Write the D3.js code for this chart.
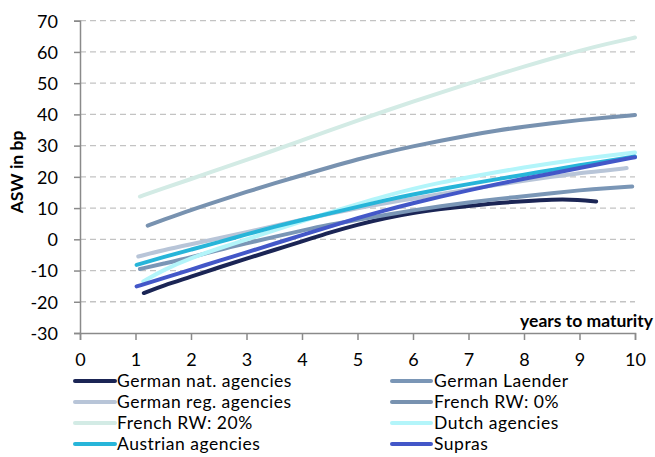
<!DOCTYPE html>
<html><head><meta charset="utf-8">
<script src="https://cdn.jsdelivr.net/npm/d3@7/dist/d3.min.js"></script>
<style>body{margin:0;background:#fff}svg{display:block}text{font-family:Lato,"Open Sans",sans-serif;fill:#000}</style>
</head><body><svg id="c" width="655" height="457"></svg>
<script>
const seriesNames = ["German nat. agencies","German Laender","German reg. agencies","French RW: 0%","French RW: 20%","Dutch agencies","Austrian agencies","Supras"];
const seriesColors = ["#1b2555","#7a96b6","#b8c5d8","#7892b0","#d3ebe5","#b3f5fa","#27b5d9","#4357c8"];
const germanNat = [[1.15,-17.2],[1.5,-14.8],[2,-12],[2.5,-9],[3,-6.2],[3.5,-3.4],[4,-0.7],[4.5,2.2],[5,4.7],[5.5,6.8],[6,8.5],[6.5,9.7],[7,10.7],[7.5,11.6],[8,12.2],[8.5,12.8],[9,12.7],[9.3,12.1]];
const germanLaender = [[1.08,-9.5],[1.5,-7.8],[2,-5.8],[2.5,-3.4],[3,-1.3],[3.5,0.8],[4,2.8],[4.5,4.7],[5,6.3],[5.5,7.8],[6,9.3],[6.5,10.6],[7,11.8],[7.5,12.9],[8,13.8],[8.5,14.8],[9,15.7],[9.5,16.4],[9.95,16.9]];
const germanReg = [[1.05,-5.5],[1.5,-3.5],[2,-1.6],[2.5,0.3],[3,2.3],[3.5,4.3],[4,6.3],[4.5,8.2],[5,10],[5.5,11.6],[6,13],[6.5,14.5],[7,16],[7.5,17.4],[8,18.8],[8.5,20],[9,21.2],[9.5,22.1],[9.85,22.8]];
const frenchRW0 = [[1.22,4.4],[1.5,6.2],[2,9.4],[2.5,12.3],[3,15.2],[3.5,17.9],[4,20.5],[4.5,23.1],[5,25.6],[5.5,27.8],[6,29.8],[6.5,31.6],[7,33.3],[7.5,34.8],[8,36.1],[8.5,37.2],[9,38.2],[9.5,39],[10,39.8]];
const frenchRW20 = [[1.08,13.7],[1.5,16.3],[2,19.3],[2.5,22.4],[3,25.4],[3.5,28.5],[4,31.7],[4.5,34.9],[5,38],[5.5,41.1],[6,44.1],[6.5,47],[7,49.9],[7.5,52.6],[8,55.3],[8.5,57.9],[9,60.4],[9.5,62.6],[10,64.6]];
const dutch = [[1.14,-13.5],[1.5,-9.8],[2,-6],[2.5,-2.9],[3,-0.1],[3.5,2.9],[4,5.8],[4.5,8.6],[5,11.3],[5.5,13.9],[6,16.2],[6.5,18.2],[7,19.9],[7.5,21.5],[8,23],[8.5,24.4],[9,25.7],[9.5,26.8],[10,27.8]];
const austrian = [[1.02,-8.2],[1.5,-5.7],[2,-3.3],[2.5,-0.9],[3,1.6],[3.5,4],[4,6.2],[4.5,8.3],[5,10.4],[5.5,12.5],[6,14.4],[6.5,16],[7,17.7],[7.5,19.2],[8,20.7],[8.5,22.2],[9,23.7],[9.5,25.1],[10,26.5]];
const supras = [[1.02,-15.1],[1.5,-12.4],[2,-9.7],[2.5,-6.9],[3,-4.2],[3.5,-1.4],[4,1.3],[4.5,4.1],[5,6.8],[5.5,9.3],[6,11.6],[6.5,13.7],[7,15.7],[7.5,17.6],[8,19.4],[8.5,21.1],[9,22.8],[9.5,24.6],[10,26.3]];
const seriesData = [germanNat,germanLaender,germanReg,frenchRW0,frenchRW20,dutch,austrian,supras];
const xTicks = [0,1,2,3,4,5,6,7,8,9,10];
const yTicks = [-30,-20,-10,0,10,20,30,40,50,60,70];

const svg = d3.select("#c");
const x = d3.scaleLinear().domain([0,10]).range([80,635]);
const y = d3.scaleLinear().domain([-30,70]).range([333,20.7]);

svg.append("g").selectAll("line").data(yTicks.filter(v=>v>-30)).join("line")
  .attr("x1",x(0)).attr("x2",x(10)).attr("y1",d=>y(d)).attr("y2",d=>y(d))
  .attr("stroke","#c3c3c3").attr("stroke-width",1.3).attr("stroke-dasharray","6,4");

const fmt = d => String(d);
const yAxis = svg.append("g").attr("transform",`translate(${x(0)},0)`)
  .call(d3.axisLeft(y).tickValues(yTicks).tickSize(6).tickPadding(16).tickFormat(fmt));
const xAxis = svg.append("g").attr("transform",`translate(0,${y(-30)})`)
  .call(d3.axisBottom(x).tickValues(xTicks).tickSize(7).tickPadding(13).tickFormat(fmt));
[yAxis,xAxis].forEach(g=>{
  g.select(".domain").attr("stroke","#8a8a8a").attr("stroke-width",1.5);
  g.selectAll(".tick line").attr("stroke","#8a8a8a").attr("stroke-width",1.5);
  g.selectAll(".tick text").attr("font-size",18).attr("font-family","Lato").attr("fill","#000");
});
yAxis.selectAll(".tick text").attr("dy","0.35em");

const line = d3.line().x(d=>x(d[0])).y(d=>y(d[1])).curve(d3.curveBasis);
svg.append("g").selectAll("path").data(seriesData).join("path")
  .attr("d",line).attr("fill","none")
  .attr("stroke",(d,i)=>seriesColors[i]).attr("stroke-width",4)
  .attr("stroke-linecap","round").attr("stroke-linejoin","round");

svg.append("text").attr("x",653).attr("y",327).attr("text-anchor","end")
  .attr("font-size",17.5).attr("font-weight","bold").text("years to maturity");
svg.append("text").attr("transform","translate(23,172) rotate(-90)").attr("text-anchor","middle")
  .attr("font-size",17.5).attr("font-weight","bold").text("ASW in bp");

const legCols = [[75,115,117],[392,431,434]];
const legRows = [381,402,423,444];
const leg = svg.append("g").selectAll("g").data(seriesNames).join("g")
  .attr("transform",(d,i)=>`translate(0,${legRows[Math.floor(i/2)]})`);
leg.append("line").attr("x1",(d,i)=>legCols[i%2][0]).attr("x2",(d,i)=>legCols[i%2][1])
  .attr("y1",0).attr("y2",0).attr("stroke",(d,i)=>seriesColors[i]).attr("stroke-width",4).attr("stroke-linecap","round");
leg.append("text").attr("x",(d,i)=>legCols[i%2][2]).attr("y",0).attr("dy","0.35em")
  .attr("font-size",17.5).attr("letter-spacing","0.5px").text(d=>d);
</script></body></html>
